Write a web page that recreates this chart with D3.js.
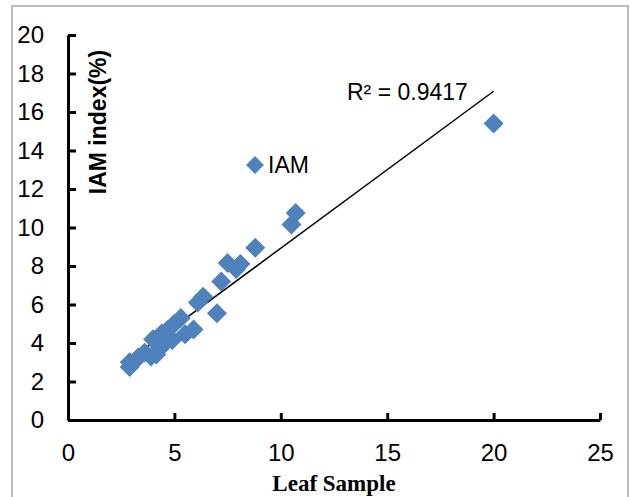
<html>
<script src='https://d3js.org/d3.v7.min.js'></script>
<style>
    body {
        margin: 0;
        background: #ffffff;
    }
</style>

<body>
    <svg id='chart' width=630 height=497></svg>
</body>

<script>
    // values
    var leafSample = [2.9, 2.9, 3.3, 3.6, 3.9, 4.0, 4.15, 4.4, 4.4, 4.7, 4.9, 5.0, 5.3,
        5.5, 5.9, 6.1, 6.35, 7.0, 7.2, 7.5, 7.9, 8.1, 8.8, 10.5, 10.7, 20];
    var iamIndex = [2.75, 3.0, 3.25, 3.5, 3.3, 4.2, 3.4, 3.8, 4.5, 4.7, 4.15, 5.0, 5.3,
        4.45, 4.7, 6.1, 6.4, 5.55, 7.2, 8.15, 7.85, 8.1, 8.95, 10.15, 10.75, 15.4];
    var xTicks = [0, 5, 10, 15, 20, 25];
    var yTicks = [0, 2, 4, 6, 8, 10, 12, 14, 16, 18, 20];
    var seriesName = 'IAM';
    var rSquaredLabel = 'R² = 0.9417';

    var data = leafSample.map(function(d, i) {
        return { x: d, y: iamIndex[i] };
    });

    var svg = d3.select('#chart');
    var blue = '#4f81bd';

    // outer frame
    svg.append('rect')
        .attr('x', 12)
        .attr('y', 6)
        .attr('width', 616)
        .attr('height', 520)
        .attr('fill', 'none')
        .attr('stroke', '#a6a6a6')
        .attr('stroke-width', 1.5);

    var x = d3.scaleLinear()
        .domain([0, 25])
        .range([68, 600]);

    var y = d3.scaleLinear()
        .domain([0, 20])
        .range([420, 35]);

    var xaxis = svg.append('g')
        .attr('transform', 'translate(0,' + y(0) + ')')
        .call(d3.axisBottom(x).tickValues(xTicks).tickSize(-7).tickSizeOuter(0).tickPadding(14));

    var yaxis = svg.append('g')
        .attr('transform', 'translate(' + x(0) + ',0)')
        .call(d3.axisLeft(y).tickValues(yTicks).tickSize(-8).tickSizeOuter(0).tickPadding(24));

    [xaxis, yaxis].forEach(function(a) {
        a.select('.domain').attr('stroke', '#000').attr('stroke-width', 3);
        a.selectAll('.tick line').attr('stroke', '#000').attr('stroke-width', 3);
        a.selectAll('.tick text')
            .attr('fill', '#000')
            .style('font-family', 'Liberation Sans, Arial, sans-serif')
            .style('font-size', '24px');
    });
    xaxis.selectAll('.tick text').attr('dy', '0.71em').attr('y', 24);

    // linear trendline by least squares
    var mx = d3.mean(data, function(d) { return d.x; });
    var my = d3.mean(data, function(d) { return d.y; });
    var sxy = d3.sum(data, function(d) { return (d.x - mx) * (d.y - my); });
    var sxx = d3.sum(data, function(d) { return (d.x - mx) * (d.x - mx); });
    var slope = sxy / sxx;
    var intercept = my - slope * mx;
    var ext = d3.extent(data, function(d) { return d.x; });

    svg.append('line')
        .attr('x1', x(ext[0]))
        .attr('y1', y(intercept + slope * ext[0]))
        .attr('x2', x(ext[1]))
        .attr('y2', y(intercept + slope * ext[1]))
        .attr('stroke', '#000')
        .attr('stroke-width', 1.5);

    var diamond = d3.symbol().type(d3.symbolSquare).size(200);

    svg.append('g')
        .selectAll('path')
        .data(data)
        .enter()
        .append('path')
        .attr('d', diamond)
        .attr('transform', function(d) {
            return 'translate(' + x(d.x) + ',' + y(d.y) + ')rotate(45)';
        })
        .attr('fill', blue);

    // legend
    svg.append('path')
        .attr('d', d3.symbol().type(d3.symbolSquare).size(160))
        .attr('transform', 'translate(255,165)rotate(45)')
        .attr('fill', blue);

    svg.append('text')
        .attr('x', 268)
        .attr('y', 173)
        .style('font-family', 'Liberation Sans, Arial, sans-serif')
        .style('font-size', '23px')
        .text(seriesName);

    svg.append('text')
        .attr('x', 347)
        .attr('y', 100)
        .style('font-family', 'Liberation Sans, Arial, sans-serif')
        .style('font-size', '23px')
        .text(rSquaredLabel);

    // axis titles
    svg.append('text')
        .attr('transform', 'translate(106,122)rotate(-90)')
        .style('text-anchor', 'middle')
        .style('font-family', 'Liberation Sans, Arial, sans-serif')
        .style('font-weight', 'bold')
        .style('font-size', '23px')
        .text('IAM index(%)');

    svg.append('text')
        .attr('x', 334)
        .attr('y', 491)
        .style('text-anchor', 'middle')
        .style('font-family', 'Liberation Serif, Times New Roman, serif')
        .style('font-weight', 'bold')
        .style('font-size', '23px')
        .text('Leaf Sample');
</script>

</html>
